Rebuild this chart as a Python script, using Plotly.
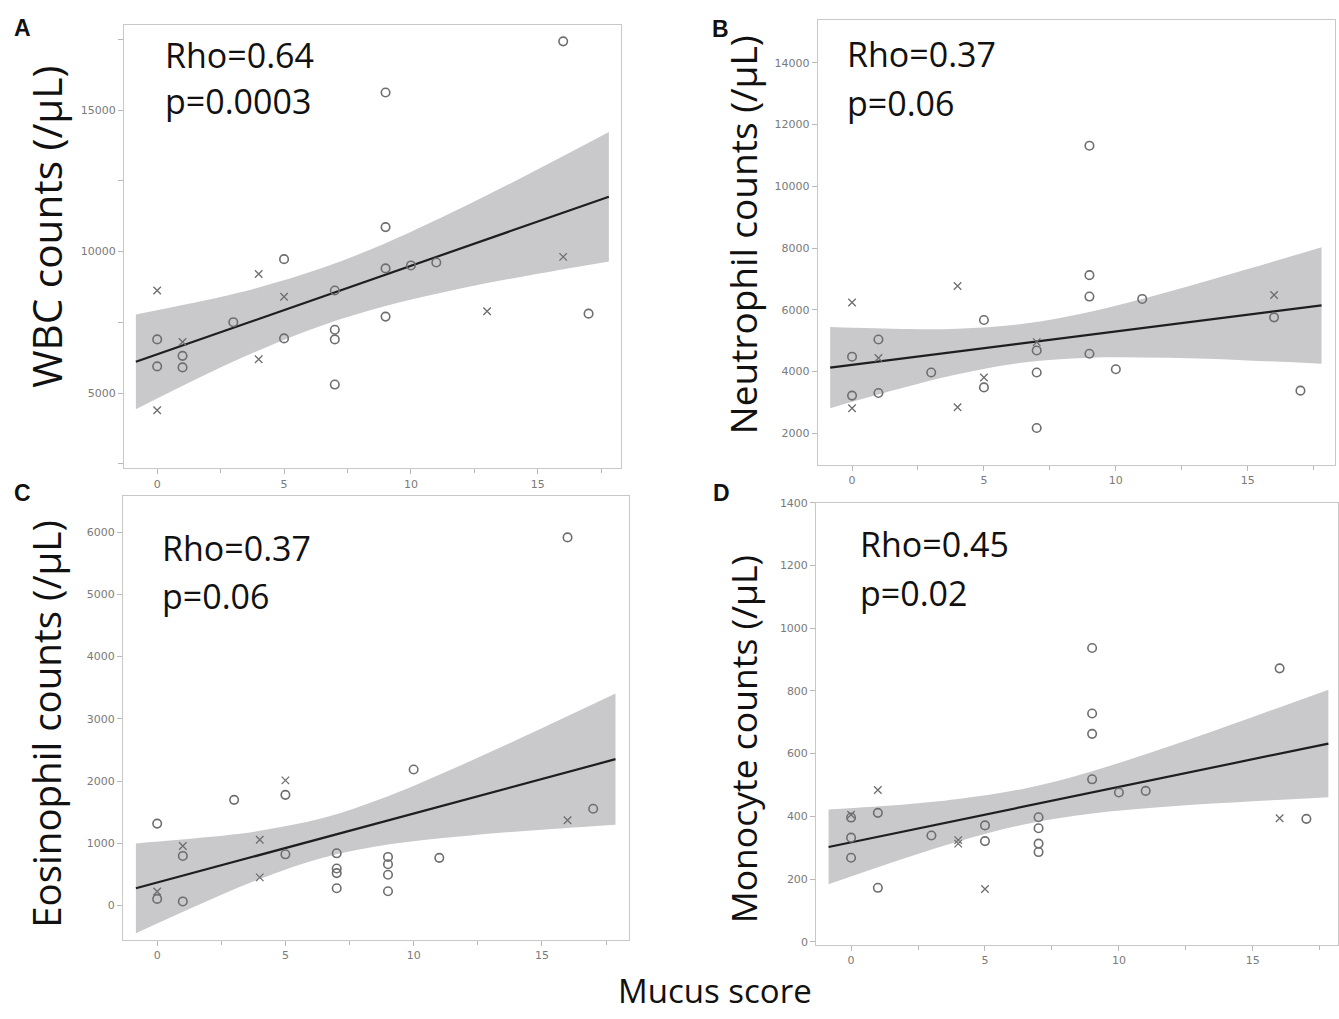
import plotly.graph_objects as go

W, H = 1339, 1019

# ---------------- data ----------------
# Panel A: WBC
A_circ_x = [16, 9, 9, 5, 7, 9, 10, 11, 17, 9, 3, 0, 5, 7, 7, 1, 0, 1, 7]
A_circ_y = [17430, 15624, 10864, 9731, 8624, 9405, 9510, 9615, 7806, 7701, 7504, 6896, 6931, 7235, 6896, 6314, 5940, 5905, 5299]
A_cross_x = [4, 0, 5, 16, 13, 1, 4, 0]
A_cross_y = [9206, 8624, 8401, 9813, 7888, 6804, 6196, 4389]
A_fit_x = [-0.84, 17.8]
A_fit_y = [6104, 11938]
A_band_x = [-0.84, 2, 4, 6.5, 9, 12, 15, 17.8]
A_band_lo = [4430, 5691, 6507, 7387, 8072, 8700, 9216, 9651]
A_band_hi = [7778, 8295, 8731, 9417, 10296, 11546, 12908, 14225]

# Panel B: Neutrophil
B_circ_x = [9, 9, 9, 11, 16, 5, 1, 0, 7, 9, 3, 7, 10, 5, 1, 0, 17, 7]
B_circ_y = [11316, 7121, 6427, 6350, 5753, 5666, 5034, 4479, 4681, 4575, 3965, 3965, 4071, 3484, 3301, 3217, 3378, 2167]
B_cross_x = [0, 4, 16, 1, 7, 5, 0, 4]
B_cross_y = [6234, 6767, 6479, 4437, 4950, 3805, 2809, 2841]
B_fit_x = [-0.83, 17.8]
B_fit_y = [4125, 6139]
B_band_x = [-0.83, 2, 4, 6.5, 9, 12, 15, 17.8]
B_band_lo = [2811, 3485, 3907, 4292, 4448, 4442, 4358, 4250]
B_band_hi = [5439, 5377, 5387, 5544, 5928, 6582, 7316, 8028]

# Panel C: Eosinophil
C_circ_x = [16, 10, 5, 3, 0, 17, 1, 5, 7, 9, 11, 9, 7, 7, 9, 7, 9, 0, 1]
C_circ_y = [5914, 2187, 1779, 1699, 1317, 1556, 798, 824, 840, 782, 767, 665, 596, 522, 496, 278, 231, 108, 67]
C_cross_x = [5, 16, 4, 1, 4, 0]
C_cross_y = [2012, 1371, 1058, 957, 453, 226]
C_fit_x = [-0.83, 17.87]
C_fit_y = [278, 2352]
C_band_x = [-0.83, 2, 4, 6.5, 9, 12, 15, 17.87]
C_band_lo = [-443, 83, 426, 772, 980, 1120, 1219, 1299]
C_band_hi = [999, 1101, 1202, 1410, 1756, 2282, 2849, 3405]

# Panel D: Monocyte
D_circ_x = [9, 16, 9, 9, 9, 10, 11, 1, 0, 0, 0, 1, 3, 5, 5, 7, 7, 7, 7, 17]
D_circ_y = [937, 872, 728, 663, 518, 476, 481, 411, 396, 332, 268, 172, 339, 371, 321, 397, 362, 313, 286, 392]
D_cross_x = [1, 0, 4, 4, 5, 16]
D_cross_y = [484, 405, 324, 313, 168, 394]
D_fit_x = [-0.84, 17.82]
D_fit_y = [302, 632]
D_band_x = [-0.84, 2, 4, 6.5, 9, 12, 15, 17.82]
D_band_lo = [183, 266, 320, 375, 409, 432, 448, 461]
D_band_hi = [422, 438, 455, 489, 544, 627, 717, 804]

panels = [
    dict(key="A", cx=A_circ_x, cy=A_circ_y, xx=A_cross_x, xy=A_cross_y, fx=A_fit_x, fy=A_fit_y,
         bx=A_band_x, blo=A_band_lo, bhi=A_band_hi),
    dict(key="B", cx=B_circ_x, cy=B_circ_y, xx=B_cross_x, xy=B_cross_y, fx=B_fit_x, fy=B_fit_y,
         bx=B_band_x, blo=B_band_lo, bhi=B_band_hi),
    dict(key="C", cx=C_circ_x, cy=C_circ_y, xx=C_cross_x, xy=C_cross_y, fx=C_fit_x, fy=C_fit_y,
         bx=C_band_x, blo=C_band_lo, bhi=C_band_hi),
    dict(key="D", cx=D_circ_x, cy=D_circ_y, xx=D_cross_x, xy=D_cross_y, fx=D_fit_x, fy=D_fit_y,
         bx=D_band_x, blo=D_band_lo, bhi=D_band_hi),
]

y_titles = ["WBC counts (/μL)", "Neutrophil counts (/μL)", "Eosinophil counts (/μL)", "Monocyte counts (/μL)"]
rho_text = ["Rho=0.64", "Rho=0.37", "Rho=0.37", "Rho=0.45"]
p_text = ["p=0.0003", "p=0.06", "p=0.06", "p=0.02"]
x_ticks = [0, 5, 10, 15]

# ---------------- layout geometry (pixels) ----------------
box = {  # left, right, top, bottom in px
    "A": (124, 621, 19, 467),
    "B": (818.3, 1336, 14, 463.3),
    "C": (123, 629.3, 495, 943.3),
    "D": (816.7, 1339, 501.7, 948.3),
}
xr = {"A": [-1.311, 18.26], "B": [-1.303, 18.31], "C": [-1.336, 18.39], "D": [-1.306, 18.18]}
yr = {"A": [2335, 18015], "B": [977, 15393], "C": [-553, 6577], "D": [-10.4, 1400]}
ydt = {"A": 5000, "B": 2000, "C": 1000, "D": 200}
yminor = {"A": 2500, "B": None, "C": None, "D": None}


def px(x):
    return x / W


def py(y):
    return 1 - y / H


fig = go.Figure()
GRAY_BOX = "#c8c8c8"
TICKFONT = dict(family="DejaVu Sans", size=11, color="#7a7a7a")
MCOL = "#6e6e6e"

for i, p in enumerate(panels):
    k = p["key"]
    n = "" if i == 0 else str(i + 1)
    xa, ya = "x" + n, "y" + n
    # band
    fig.add_trace(go.Scatter(x=p["bx"], y=p["blo"], mode="lines", line=dict(width=0, shape="spline", color="#c9c9cb"),
                             xaxis=xa, yaxis=ya, showlegend=False, hoverinfo="skip"))
    fig.add_trace(go.Scatter(x=p["bx"], y=p["bhi"], mode="lines", line=dict(width=0, shape="spline", color="#c9c9cb"),
                             fill="tonexty", fillcolor="#c9c9cb", xaxis=xa, yaxis=ya, showlegend=False,
                             hoverinfo="skip"))
    # fit line
    fig.add_trace(go.Scatter(x=p["fx"], y=p["fy"], mode="lines", line=dict(width=2.2, color="#1e1e1e"),
                             xaxis=xa, yaxis=ya, showlegend=False))
    # points
    fig.add_trace(go.Scatter(x=p["cx"], y=p["cy"], mode="markers",
                             marker=dict(symbol="circle-open", size=8.5, color=MCOL, line=dict(width=1.6, color=MCOL)),
                             xaxis=xa, yaxis=ya, showlegend=False))
    fig.add_trace(go.Scatter(x=p["xx"], y=p["xy"], mode="markers",
                             marker=dict(symbol="x-thin-open", size=7.5, color=MCOL, line=dict(width=1.3, color=MCOL)),
                             xaxis=xa, yaxis=ya, showlegend=False))

    l, r, t, b = box[k]
    xaxis = dict(domain=[px(l), px(r)], range=xr[k], tickvals=x_ticks, ticks="outside", ticklen=5,
                 tickcolor="#b8b8b8", tickfont=TICKFONT, showgrid=False, zeroline=False, showline=True,
                 linecolor=GRAY_BOX, linewidth=1, mirror=True, anchor=ya,
                 minor=dict(dtick=2.5, tick0=0, ticks="outside", ticklen=4, tickcolor="#b8b8b8"))
    yaxis = dict(domain=[py(b), py(t)], range=yr[k], dtick=ydt[k], tickformat="d", ticks="outside", ticklen=5,
                 tickcolor="#b8b8b8", tickfont=TICKFONT, showgrid=False, zeroline=False, showline=True,
                 linecolor=GRAY_BOX, linewidth=1, mirror=True, anchor=xa)
    if yminor[k]:
        yaxis["minor"] = dict(dtick=yminor[k], ticks="outside", ticklen=5, tickcolor="#b8b8b8")
    fig.layout["xaxis" + n] = xaxis
    fig.layout["yaxis" + n] = yaxis

ann = []
BIG = "Open Sans"
# Rho / p annotations: (left px, cap-middle px of line1, of line2)
rp_pos = {"A": (163, 49, 96), "B": (846, 48, 98), "C": (160, 547, 596), "D": (859, 543, 593)}
for i, p in enumerate(panels):
    k = p["key"]
    x0, y1, y2 = rp_pos[k]
    ann.append(dict(text=rho_text[i], x=px(x0), y=py(y1), xref="paper", yref="paper", xanchor="left",
                    yanchor="middle", showarrow=False, font=dict(family=BIG, size=34, color="#111")))
    ann.append(dict(text=p_text[i], x=px(x0), y=py(y2), xref="paper", yref="paper", xanchor="left",
                    yanchor="middle", showarrow=False, font=dict(family=BIG, size=34, color="#111")))

# y titles (center x px, center y px, font size)
yt_pos = {"A": (47, 223, 40.5), "B": (743, 231, 37), "C": (46, 725, 38.5), "D": (743, 740, 35.5)}
for i, p in enumerate(panels):
    k = p["key"]
    x0, y0, fs = yt_pos[k]
    ann.append(dict(text=y_titles[i], x=px(x0), y=py(y0), xref="paper", yref="paper", xanchor="center",
                    yanchor="middle", textangle=-90, showarrow=False, font=dict(family=BIG, size=fs, color="#111")))

# panel letters (left px, center y px)
lt_pos = {"A": (12, 22), "B": (711, 23), "C": (12, 492), "D": (712, 492)}
for k, (x0, y0) in lt_pos.items():
    ann.append(dict(text="<b>" + k + "</b>", x=px(x0), y=py(y0), xref="paper", yref="paper", xanchor="left",
                    yanchor="middle", showarrow=False, font=dict(family="Liberation Sans", size=23, color="#111")))

ann.append(dict(text="Mucus score", x=px(716), y=0, xref="paper", yref="paper", xanchor="center",
                yanchor="bottom", showarrow=False, font=dict(family=BIG, size=33, color="#111")))

fig.update_layout(width=W, height=H, margin=dict(l=0, r=0, t=0, b=0), paper_bgcolor="white",
                  plot_bgcolor="white", annotations=ann, showlegend=False)

fig.write_html("out.html")
